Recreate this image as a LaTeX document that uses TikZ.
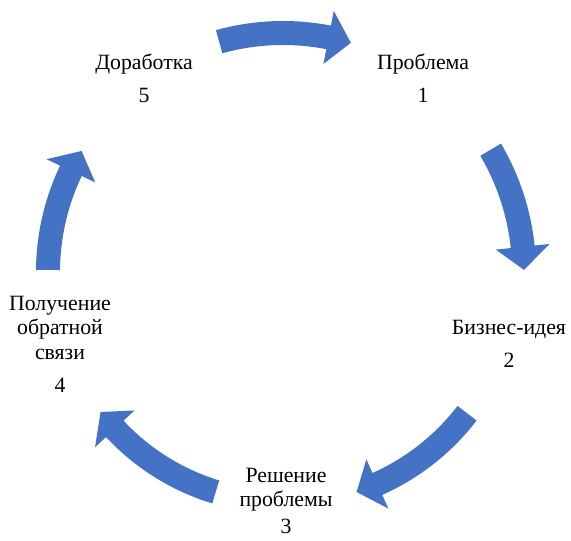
\documentclass[tikz,border=0pt]{standalone}
\usepackage{fontspec}
\setmainfont{Liberation Serif}
\definecolor{arrowblue}{RGB}{68,114,196}

\begin{document}
\begin{tikzpicture}[x=0.025cm, y=0.025cm,
    flow/.style={fill=arrowblue},
    lbl/.style={align=center, inner sep=0pt, font=\fontsize{15.5}{17.4}\selectfont}]
            \useasboundingbox (0, 0) rectangle (571, 540);

            %labels
            \node[lbl] (problema) at (423, 461.5) {Проблема\\[6pt]1};
            \node[lbl] (ideya) at (509, 196.5) {Бизнес-идея\\[6pt]2};
            \node[lbl] (reshenie) at (286, 39) {Решение\\проблемы\\[2pt]3};
            \node[lbl] (svyaz) at (60, 196) {Получение\\обратной\\связи\\[6pt]4};
            \node[lbl] (dorabotka) at (144, 461.5) {Доработка\\[6pt]5};

            %cycle arrows
            \begin{scope}[shift={(283, 268)}]
            \fill[flow] (105.5:251) arc[start angle=105.5, end angle=79, radius=251] -- (79:266) -- (73.5:239)
                -- (79:212) -- (79:227) arc[start angle=79, end angle=105.5, radius=227] -- cycle;
            \fill[flow] (30.5:253) arc[start angle=30.5, end angle=6, radius=253] -- (6:268) -- (0.5:241)
                -- (6:214) -- (6:229) arc[start angle=6, end angle=30.5, radius=229] -- cycle;
            \fill[flow] (-37.5:244) arc[start angle=-37.5, end angle=-66, radius=244] -- (-66:259) -- (-71.5:232)
                -- (-66:205) -- (-66:220) arc[start angle=-66, end angle=-37.5, radius=220] -- cycle;
            \fill[flow] (-107:242) arc[start angle=-107, end angle=-137, radius=242] -- (-137:257) -- (-142.5:230)
                -- (-137:203) -- (-137:218) arc[start angle=-137, end angle=-107, radius=218] -- cycle;
            \fill[flow] (179.5:247) arc[start angle=179.5, end angle=154.5, radius=247] -- (154.5:262) -- (149:235)
                -- (154.5:208) -- (154.5:223) arc[start angle=154.5, end angle=179.5, radius=223] -- cycle;
            \end{scope}
        \end{tikzpicture}
\end{document}
